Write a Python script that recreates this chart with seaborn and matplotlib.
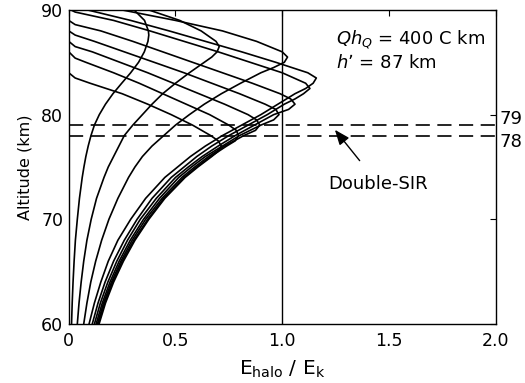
import matplotlib
matplotlib.use("Agg")
import matplotlib.pyplot as plt
import seaborn as sns
import pandas as pd

# ---- data ----
alt_c1 = [60, 62, 64, 66, 68, 70, 72, 74, 75, 76, 77, 78, 79, 80, 81, 82, 83, 84, 85, 86, 87, 87.6, 88, 89, 90]
x_c1 = [.013, .016, .020, .025, .031, .040, .050, .063, .071, .080, .091, .104, .120, .143, .172, .207, .248, .290, .327, .354, .371, .375, .373, .355, .306]

alt_c2 = [60, 62, 64, 66, 68, 70, 72, 74, 75, 76, 77, 78, 79, 80, 81, 82, 83, 84, 85, 85.5, 86, 86.5, 87, 88, 89, 90]
x_c2 = [.04, .048, .058, .07, .085, .105, .13, .165, .185, .21, .235, .26, .30, .345, .39, .44, .50, .565, .635, .67, .695, .705, .69, .62, .52, .375]

alt_c3 = [60, 62, 64, 66, 68, 70, 72, 74, 75, 76, 77, 78, 79, 80, 81, 82, 83, 84, 84.5, 85, 85.5, 86, 87, 88, 89, 90]
x_c3 = [.07, .085, .103, .126, .154, .188, .23, .28, .31, .345, .39, .445, .50, .565, .635, .715, .805, .90, .96, 1.01, 1.025, 1.0, .88, .72, .50, .25]

alt_c4 = [60, 62, 64, 66, 68, 70, 72, 74, 75, 76, 77, 78, 79, 80, 81, 82, 82.5, 83, 83.5, 84, 85, 86, 87, 88, 89, 90]
x_c4 = [.095, .12, .15, .185, .23, .29, .36, .45, .51, .57, .64, .72, .81, .90, .98, 1.06, 1.11, 1.145, 1.16, 1.12, .97, .81, .64, .47, .29, .088]

alt_c5 = [60, 62, 64, 66, 68, 70, 72, 74, 75, 76, 77, 78, 79, 80, 81, 81.5, 82, 82.5, 83, 84, 85, 86, 87, 88, 89, 89.8, 90]
x_c5 = [.11, .137, .17, .21, .26, .32, .39, .48, .54, .60, .67, .75, .84, .93, 1.01, 1.06, 1.10, 1.13, 1.11, 1.0, .85, .70, .54, .38, .21, .03, .01]

alt_c6 = [60, 62, 64, 66, 68, 70, 72, 74, 75, 76, 77, 78, 79, 80, 80.5, 81, 81.5, 82, 83, 84, 85, 86, 87, 88, 88.6, 89, 90]
x_c6 = [.12, .148, .183, .225, .275, .335, .41, .50, .56, .625, .70, .78, .87, .96, 1.03, 1.06, 1.04, .99, .86, .72, .58, .44, .30, .15, .03, 0, 0]

alt_c7 = [60, 62, 64, 66, 68, 70, 72, 74, 75, 76, 77, 78, 79, 79.5, 80, 80.5, 81, 82, 83, 84, 85, 86, 87, 87.6, 88, 90]
x_c7 = [.128, .157, .193, .236, .288, .35, .425, .515, .575, .64, .72, .80, .90, .96, .985, .97, .92, .80, .67, .54, .40, .26, .12, .03, 0, 0]

alt_c8 = [60, 62, 64, 66, 68, 70, 72, 74, 75, 76, 77, 78, 78.5, 79, 79.5, 80, 81, 82, 83, 84, 85, 86, 86.5, 87, 90]
x_c8 = [.134, .163, .20, .244, .297, .36, .437, .53, .59, .655, .73, .82, .875, .895, .88, .84, .73, .61, .49, .37, .24, .11, .03, 0, 0]

alt_c9 = [60, 62, 64, 66, 68, 70, 72, 74, 75, 76, 77, 77.5, 78, 78.5, 79, 80, 81, 82, 83, 84, 85, 85.4, 86, 90]
x_c9 = [.138, .168, .205, .25, .305, .37, .445, .54, .60, .665, .74, .78, .795, .785, .75, .66, .55, .44, .33, .21, .08, .03, 0, 0]

alt_c10 = [60, 62, 64, 66, 68, 70, 72, 74, 75, 76, 76.5, 77, 77.5, 78, 79, 80, 81, 82, 83, 83.5, 84, 90]
x_c10 = [.142, .172, .21, .256, .31, .375, .45, .545, .605, .67, .70, .715, .70, .665, .58, .48, .37, .25, .10, .03, 0, 0]

sir_altitudes = [79, 78]
sir_labels = ["79", "78"]
x_ticks = [0, 0.5, 1.0, 1.5, 2.0]
x_ticklabels = ["0", "0.5", "1.0", "1.5", "2.0"]
y_ticks = [60, 70, 80, 90]

curves = [(alt_c1, x_c1), (alt_c2, x_c2), (alt_c3, x_c3), (alt_c4, x_c4), (alt_c5, x_c5),
          (alt_c6, x_c6), (alt_c7, x_c7), (alt_c8, x_c8), (alt_c9, x_c9), (alt_c10, x_c10)]

rows = []
for i, (a, x) in enumerate(curves):
    for aa, xx in zip(a, x):
        rows.append({"curve": i, "alt": aa, "ratio": xx})
df = pd.DataFrame(rows)

# ---- figure ----
sns.set_theme(style="white")
plt.rcParams["font.family"] = ["DejaVu Sans"]
plt.rcParams["mathtext.fontset"] = "dejavusans"
plt.rcParams["text.color"] = "black"
plt.rcParams["axes.labelcolor"] = "black"
plt.rcParams["xtick.color"] = "black"
plt.rcParams["ytick.color"] = "black"

fig = plt.figure(figsize=(5.25, 3.83), dpi=100)
ax = fig.add_axes([0.131, 0.154, 0.813, 0.820])

sns.lineplot(data=df, x="ratio", y="alt", units="curve", estimator=None, sort=False,
             color="black", lw=1.2, ax=ax, legend=False)

ax.axvline(1.0, color="black", lw=1.0)
for h in sir_altitudes:
    ax.axhline(h, color="black", lw=1.2, ls=(0, (8.5, 4.5)))

ax.set_xlim(0, 2)
ax.set_ylim(60, 90)
ax.set_xticks(x_ticks)
ax.set_xticklabels(x_ticklabels)
ax.set_yticks(y_ticks)
ax.tick_params(direction="in", length=4, width=0.8, colors="black", labelcolor="black",
               labelsize=12.5, top=True, right=True)
ax.tick_params(axis="x", pad=6)
ax.tick_params(axis="y", pad=4)
for s in ax.spines.values():
    s.set_color("black")
    s.set_linewidth(1.0)

ax.set_xlabel(r"E$_{\rm halo}$ / E$_{\rm k}$", fontsize=14.5, labelpad=6, color="black")
ax.set_ylabel("Altitude (km)", fontsize=11.5, labelpad=6, color="black")

ax.text(1.25, 87.2, r"$Qh_Q$ = 400 C km", fontsize=13, va="center", ha="left", color="black")
ax.text(1.25, 84.9, r"$h$’ = 87 km", fontsize=13, va="center", ha="left", color="black")

ax.text(2.02, 79.55, sir_labels[0], fontsize=13, va="center", ha="left", clip_on=False, color="black")
ax.text(2.02, 77.35, sir_labels[1], fontsize=13, va="center", ha="left", clip_on=False, color="black")

ax.annotate("Double-SIR", xy=(1.247, 78.55), xytext=(1.45, 73.4), fontsize=13,
            ha="center", va="center", color="black",
            arrowprops=dict(arrowstyle="-|>,head_length=0.7,head_width=0.28", color="black",
                            lw=1.0, shrinkA=10, shrinkB=0))

fig.savefig("out.png", dpi=100)
